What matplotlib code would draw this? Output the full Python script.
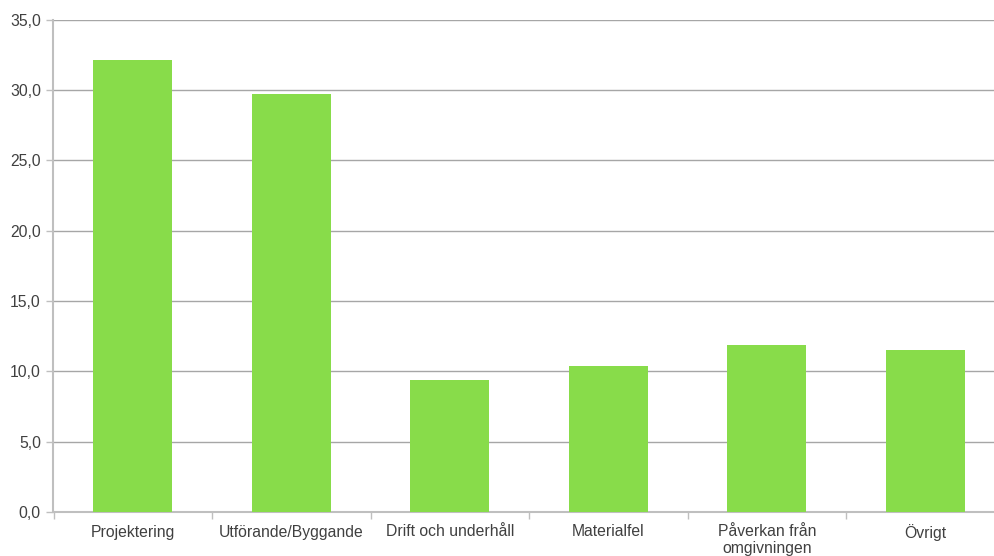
import matplotlib
matplotlib.use("Agg")
import matplotlib.pyplot as plt
import numpy as np
from matplotlib.ticker import FuncFormatter, FixedLocator

categories = ["Projektering", "Utförande/Byggande", "Drift och underhåll",
              "Materialfel", "Påverkan från\nomgivningen", "Övrigt"]
values = [32.1, 29.7, 9.4, 10.35, 11.9, 11.5]
yticks = [0, 5, 10, 15, 20, 25, 30, 35]

plt.rcParams['font.family'] = ['Liberation Sans', 'DejaVu Sans']

fig = plt.figure(figsize=(9.95, 5.56), dpi=100)
ax = fig.add_axes([53.5/995, 44/556, (1004.5-53.5)/995, (512-19.7)/556])

x = np.arange(len(categories))
ax.bar(x, values, width=0.5, color="#88dc4a", zorder=3)

ax.set_xlim(-0.5, len(categories) - 0.5)
ax.set_ylim(0, 35)
ax.set_yticks(yticks)
ax.yaxis.set_major_formatter(FuncFormatter(lambda v, p: f"{v:.1f}".replace(".", ",")))
ax.grid(axis="y", color="#a6a6a6", linewidth=1.0, zorder=0)

ax.set_xticks(x)
ax.set_xticklabels(categories, fontsize=11.3, color="#404040", linespacing=1.15)
ax.xaxis.set_minor_locator(FixedLocator(np.arange(-0.5, len(categories), 1.0)))
ax.tick_params(axis="x", which="major", length=0, pad=9)
ax.tick_params(axis="x", which="minor", length=5, color="#bfbfbf", width=1)
ax.tick_params(axis="y", length=5, color="#bfbfbf", width=1, labelsize=11.3,
               labelcolor="#404040", pad=4)

for s in ["top", "right"]:
    ax.spines[s].set_visible(False)
for s in ["left", "bottom"]:
    ax.spines[s].set_color("#bfbfbf")
    ax.spines[s].set_linewidth(1.5)

fig.savefig("out.png", dpi=100)
